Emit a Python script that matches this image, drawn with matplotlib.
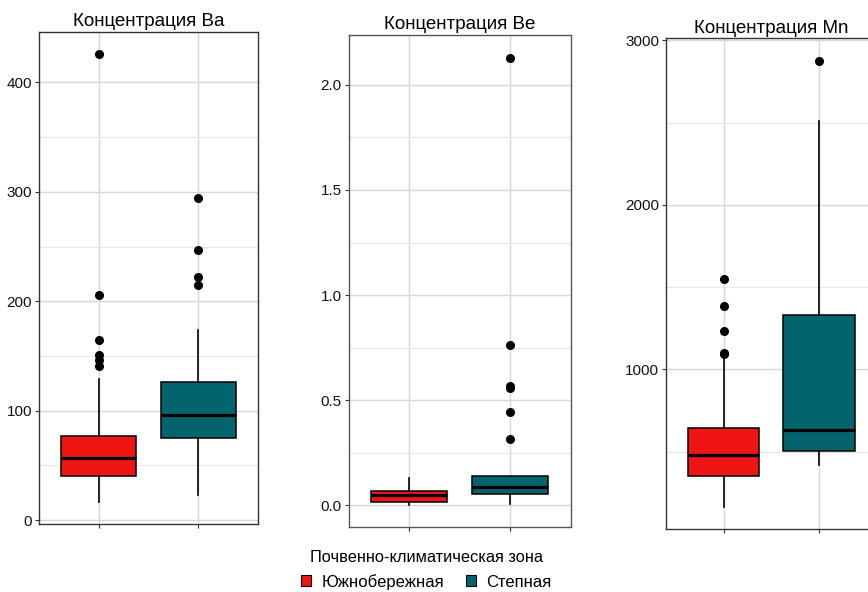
import matplotlib
matplotlib.use("Agg")
import matplotlib.pyplot as plt
from matplotlib.patches import Patch
from matplotlib.ticker import MultipleLocator

plt.rcParams["font.family"] = ["Liberation Sans", "DejaVu Sans"]

# --- data ------------------------------------------------------------------
zones = ["Южнобережная", "Степная"]
zone_colors = ["#ee1512", "#03646e"]

titles = ["Концентрация Ba", "Концентрация Be", "Концентрация Mn"]

# Ba: [Южнобережная, Степная]
ba_q1 = [40, 75]
ba_med = [57, 96]
ba_q3 = [77, 126]
ba_lo = [17, 23]
ba_hi = [129, 174]
ba_out = [[141, 146, 151, 165, 206, 426], [215, 222, 247, 294]]

# Be
be_q1 = [0.017, 0.052]
be_med = [0.048, 0.086]
be_q3 = [0.070, 0.141]
be_lo = [0.001, 0.006]
be_hi = [0.131, 0.141]
be_out = [[], [0.314, 0.444, 0.557, 0.568, 0.763, 2.13]]

# Mn
mn_q1 = [351, 505]
mn_med = [479, 631]
mn_q3 = [645, 1332]
mn_lo = [161, 418]
mn_hi = [1061, 2511]
mn_out = [[1093, 1100, 1233, 1385, 1551], [2876]]

panels = [
    dict(q1=ba_q1, med=ba_med, q3=ba_q3, lo=ba_lo, hi=ba_hi, out=ba_out,
         ylim=(-3.5, 446), major=100, minor=50, fmt="{:.0f}",
         pos=[0.0449, 0.1149, 0.2523, 0.8311], spine="#333333"),
    dict(q1=be_q1, med=be_med, q3=be_q3, lo=be_lo, hi=be_hi, out=be_out,
         ylim=(-0.105, 2.239), major=0.5, minor=0.25, fmt="{:.1f}",
         pos=[0.4017, 0.1093, 0.2558, 0.8321], spine="#555555"),
    dict(q1=mn_q1, med=mn_med, q3=mn_q3, lo=mn_lo, hi=mn_hi, out=mn_out,
         ylim=(29, 3012), major=1000, minor=500, fmt="{:.0f}",
         pos=[0.7676, 0.1064, 0.2419, 0.8289], spine="#333333"),
]

fig = plt.figure(figsize=(8.68, 5.92), dpi=100)

for title, p in zip(titles, panels):
    ax = fig.add_axes(p["pos"])
    stats = []
    for i in range(len(zones)):
        stats.append(dict(q1=p["q1"][i], med=p["med"][i], q3=p["q3"][i],
                          whislo=p["lo"][i], whishi=p["hi"][i],
                          fliers=p["out"][i]))
    bp = ax.bxp(stats, positions=[1, 2], widths=0.75, patch_artist=True,
                showcaps=False,
                boxprops=dict(edgecolor="black", linewidth=1.1),
                medianprops=dict(color="black", linewidth=2.3),
                whiskerprops=dict(color="black", linewidth=1.2),
                flierprops=dict(marker="o", markerfacecolor="black",
                                markeredgecolor="black", markersize=5.5))
    for patch, c in zip(bp["boxes"], zone_colors):
        patch.set_facecolor(c)
        patch.set_zorder(3)
    for key in ("medians", "whiskers", "fliers"):
        for art in bp[key]:
            art.set_zorder(4 if key != "whiskers" else 2)

    ax.set_xlim(0.4, 2.6)
    ax.set_ylim(*p["ylim"])
    ax.yaxis.set_major_locator(MultipleLocator(p["major"]))
    ax.yaxis.set_minor_locator(MultipleLocator(p["minor"]))
    ax.set_yticklabels([p["fmt"].format(v) for v in ax.get_yticks()])
    ax.set_xticks([1, 2])
    ax.set_xticklabels(["", ""])

    ax.grid(True, which="major", color="#d6d6d6", linewidth=1.0, zorder=0)
    ax.grid(True, which="minor", axis="y", color="#e6e6e6", linewidth=0.8, zorder=0)
    ax.set_axisbelow(True)
    ax.tick_params(axis="both", which="major", length=3, width=0.8,
                   color="#333333", labelsize=11, labelcolor="#111111", pad=2)
    ax.tick_params(axis="y", which="minor", length=0)
    for s in ax.spines.values():
        s.set_color(p["spine"])
        s.set_linewidth(1.0)
    ax.set_title(title, fontsize=13.5, pad=4)

handles = [Patch(facecolor=c, edgecolor="black", linewidth=0.8) for c in zone_colors]
leg = fig.legend(handles, zones, loc="upper center", bbox_to_anchor=(0.491, 0.09),
                 ncol=2, frameon=False, fontsize=12, title="Почвенно-климатическая зона",
                 title_fontsize=11.8, handlelength=0.6, handleheight=0.6,
                 handletextpad=0.6, columnspacing=1.3, borderpad=0.2)
leg._legend_box.sep = 6

fig.savefig("out.png", dpi=100)
